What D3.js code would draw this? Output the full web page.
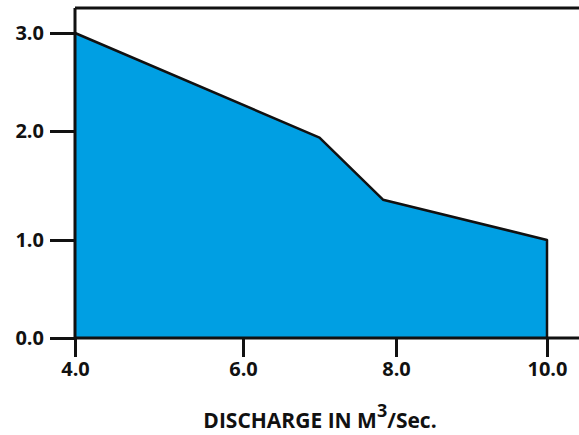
<!DOCTYPE html>
<html>
<head>
<meta charset="utf-8">
<script src="https://cdn.jsdelivr.net/npm/d3@7"></script>
<style>
  body { margin: 0; background: #fff; }
  svg text { font-family: "Open Sans", "Noto Sans", sans-serif; font-weight: 700; fill: #111; }
</style>
</head>
<body>
<div id="chart"></div>
<script>
// discharge (x) vs value (y)
const xValues = [4.0, 7.0, 7.83, 10.0];
const yValues = [3.0, 1.94, 1.37, 1.0];
const xTicks = [4, 6, 8, 10];
const yTicks = [0, 1, 2, 3];
const xTitle = "DISCHARGE IN M";

const width = 579, height = 435;
const svg = d3.select("#chart").append("svg")
  .attr("width", width).attr("height", height);

// the hand-drawn axes are not evenly spaced, so piecewise scales
const x = d3.scaleLinear().domain(xTicks).range([75, 243, 396, 547]);
const y = d3.scaleLinear().domain(yTicks).range([338, 240, 131, 33]);

const data = xValues.map((v, i) => ({ x: v, y: yValues[i] }));

// Area
svg.append("path")
  .datum(data)
  .attr("fill", "#009FE3")
  .attr("d", d3.area().x(d => x(d.x)).y0(y(0)).y1(d => y(d.y)));

// outline (top + right drop)
const last = data[data.length - 1];
svg.append("path")
  .datum(data.concat([{ x: last.x, y: 0 }]))
  .attr("fill", "none")
  .attr("stroke", "#111")
  .attr("stroke-width", 2.5)
  .attr("stroke-linejoin", "round")
  .attr("d", d3.line().x(d => x(d.x)).y(d => y(d.y)));

// frame top line
svg.append("line")
  .attr("x1", 75).attr("x2", width).attr("y1", 8).attr("y2", 8)
  .attr("stroke", "#111").attr("stroke-width", 3);

// Axes
const gx = svg.append("g").attr("transform", `translate(0,${y(0)})`)
  .call(d3.axisBottom(x).tickValues(xTicks).tickFormat(d3.format(".1f")).tickSize(19).tickPadding(5).tickSizeOuter(0));
gx.attr("font-size", 20).attr("font-family", null);
gx.select(".domain").attr("d", `M${x(4)},0H${width}`);

const gy = svg.append("g").attr("transform", `translate(${x(4)},0)`)
  .call(d3.axisLeft(y).tickValues(yTicks).tickFormat(d3.format(".1f")).tickSize(25).tickPadding(6).tickSizeOuter(0));
gy.attr("font-size", 20).attr("font-family", null);
gy.select(".domain").attr("d", `M0,8V${y(0)}`);

svg.selectAll(".domain").attr("stroke", "#111").attr("stroke-width", 3);
svg.selectAll(".tick line").attr("stroke", "#111").attr("stroke-width", 3);

// x title with superscript 3
const t = svg.append("text")
  .attr("x", 320).attr("y", 428)
  .attr("text-anchor", "middle")
  .attr("font-size", 21);
t.append("tspan").text(xTitle);
t.append("tspan").attr("dy", -11).attr("font-size", 18).text("3");
t.append("tspan").attr("dy", 11).text("/Sec.");
</script>
</body>
</html>
